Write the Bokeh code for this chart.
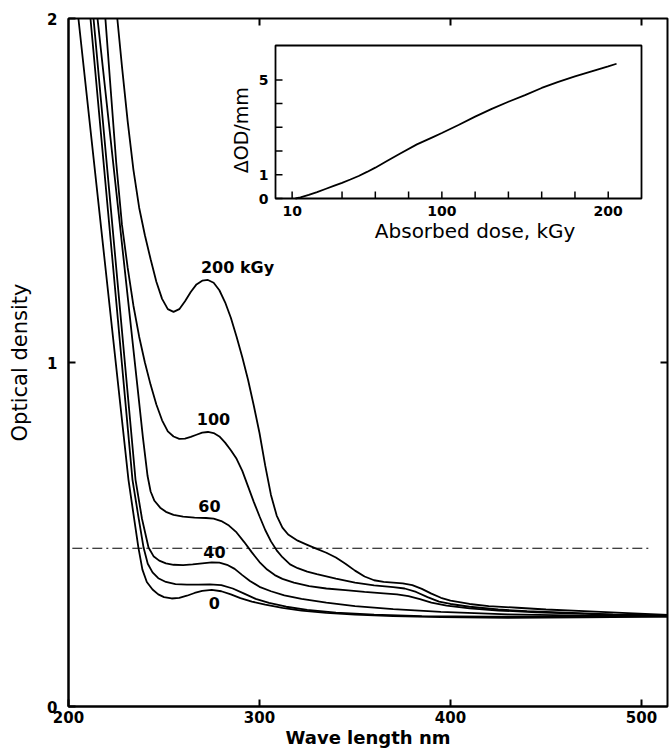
import math
from bokeh.plotting import figure
from bokeh.models import Range1d, FixedTicker
from bokeh.core.properties import value
from bokeh.embed import file_html
from bokeh.resources import INLINE

# ---------------- data ----------------
wl_0 = [204, 231.4, 234, 236.6, 238.7, 241, 244, 247, 250, 254, 258, 262, 266, 270, 275, 280, 285, 290, 296, 303, 312, 322, 335, 350, 370, 395, 430, 470, 514]
od_0 = [2.061, 0.659, 0.56, 0.462, 0.398, 0.362, 0.34, 0.326, 0.318, 0.314, 0.316, 0.322, 0.33, 0.336, 0.339, 0.335, 0.326, 0.315, 0.305, 0.296, 0.287, 0.279, 0.272, 0.267, 0.263, 0.26, 0.258, 0.259, 0.261]

wl_20 = [210.5, 233.5, 236.5, 239.3, 241.5, 244, 247, 251, 256, 262, 268, 274, 280, 286, 292, 298, 305, 314, 325, 340, 360, 385, 420, 460, 514]
od_20 = [2.061, 0.659, 0.555, 0.462, 0.415, 0.39, 0.373, 0.362, 0.356, 0.354, 0.354, 0.355, 0.353, 0.343, 0.328, 0.313, 0.301, 0.29, 0.281, 0.273, 0.267, 0.263, 0.261, 0.261, 0.262]

wl_40 = [212.1, 235.1, 238.5, 241.9, 244.5, 247.5, 251, 255, 260, 265, 270, 275, 279, 283, 287, 291, 295, 300, 306, 313, 322, 335, 350, 370, 395, 430, 470, 514]
od_40 = [2.061, 0.659, 0.545, 0.462, 0.437, 0.424, 0.416, 0.412, 0.411, 0.413, 0.416, 0.419, 0.418, 0.412, 0.4, 0.382, 0.365, 0.348, 0.335, 0.323, 0.313, 0.302, 0.292, 0.283, 0.275, 0.268, 0.264, 0.262]

wl_60 = [214, 236, 239, 241.4, 243, 245, 248, 251, 255, 260, 266, 272, 276, 280, 284, 288, 292, 296, 300, 304, 308, 312, 318, 326, 335, 345, 355, 365, 372, 378, 384, 390, 398, 410, 425, 445, 470, 495, 514]
od_60 = [2.061, 0.935, 0.78, 0.67, 0.625, 0.598, 0.578, 0.566, 0.557, 0.552, 0.549, 0.548, 0.546, 0.539, 0.526, 0.506, 0.478, 0.448, 0.42, 0.398, 0.382, 0.371, 0.36, 0.35, 0.343, 0.338, 0.333, 0.329, 0.326, 0.321, 0.312, 0.302, 0.293, 0.285, 0.279, 0.274, 0.269, 0.265, 0.263]

wl_100 = [218.5, 222, 225, 228, 231, 234, 237, 240, 243, 246, 249, 252, 255, 258, 261, 264, 267, 270, 273, 276, 279, 282, 285, 288, 291, 294, 297, 300, 303, 306, 309, 312, 316, 320, 325, 330, 340, 350, 360, 370, 376, 382, 388, 394, 400, 410, 425, 440, 460, 485, 514]
od_100 = [2.06, 1.80, 1.58, 1.40, 1.275, 1.165, 1.075, 1.0, 0.935, 0.878, 0.832, 0.80, 0.785, 0.778, 0.779, 0.784, 0.79, 0.796, 0.798, 0.795, 0.785, 0.767, 0.745, 0.72, 0.685, 0.64, 0.595, 0.553, 0.513, 0.48, 0.454, 0.434, 0.413, 0.402, 0.392, 0.385, 0.372, 0.36, 0.352, 0.347, 0.343, 0.333, 0.318, 0.305, 0.298, 0.29, 0.282, 0.277, 0.273, 0.268, 0.265]

wl_200 = [224.5, 228, 231, 234, 237, 240, 243, 246, 249, 252, 255, 258, 261, 264, 267, 270, 273, 276, 279, 282, 285, 288, 291, 294, 297, 300, 303, 306, 309, 312, 315, 320, 325, 330, 335, 340, 345, 350, 355, 360, 365, 370, 375, 380, 385, 390, 395, 400, 410, 420, 435, 450, 470, 490, 514]
od_200 = [2.06, 1.86, 1.70, 1.56, 1.45, 1.37, 1.30, 1.235, 1.185, 1.155, 1.147, 1.155, 1.178, 1.205, 1.227, 1.238, 1.240, 1.232, 1.21, 1.175, 1.13, 1.075, 1.015, 0.95, 0.875, 0.795, 0.70, 0.615, 0.555, 0.52, 0.50, 0.482, 0.47, 0.458, 0.447, 0.433, 0.415, 0.395, 0.378, 0.367, 0.362, 0.36, 0.358, 0.353, 0.342, 0.328, 0.316, 0.308, 0.298, 0.292, 0.287, 0.282, 0.277, 0.272, 0.266]

curve_label_text = ["200 kGy", "100", "60", "40", "0"]
curve_label_wl = [288.5, 275.9, 273.8, 276.4, 276.4]
curve_label_od = [1.277, 0.836, 0.583, 0.45, 0.302]

ref_level = 0.46
ref_wl = [202, 505]

x_ticks = [200, 300, 400, 500]
y_ticks = [0, 1, 2]

# inset: absorbed dose (kGy) vs delta OD per mm
dose = [12, 15, 20, 25, 30, 35, 40, 45, 50, 55, 60, 67, 75, 85, 95, 100, 110, 120, 130, 140, 150, 160, 170, 180, 190, 200, 205]
dod = [0.0, 0.05, 0.15, 0.27, 0.4, 0.53, 0.66, 0.8, 0.95, 1.12, 1.3, 1.58, 1.9, 2.28, 2.6, 2.76, 3.1, 3.45, 3.78, 4.08, 4.36, 4.66, 4.92, 5.15, 5.36, 5.57, 5.68]
inset_xlim = [0, 220]
inset_ylim = [0, 6.45]
inset_x_ticks = [10, 40, 60, 80, 100, 120, 140, 160, 180, 200]
inset_x_label_pos = [10, 100, 200]
inset_x_label_txt = ["10", "100", "200"]
inset_y_ticks = [0, 1, 2, 3, 4, 5]
inset_y_label_pos = [0, 1, 5]
inset_y_label_txt = ["0", "1", "5"]

# ---------------- layout ----------------
W, H = 669, 750
B_LEFT, B_RIGHT, B_TOP, B_BOTTOM = 68, 2, 18, 44
X0 = 200
PX_PER_NM = 1.91
fl, fr, ft, fb = B_LEFT, W - B_RIGHT, B_TOP, H - B_BOTTOM
X1 = X0 + (fr - fl) / PX_PER_NM
# inset box in figure pixels
il, ir, it, ib = 275, 641, 45, 198
kx = (ir - il) / (inset_xlim[1] - inset_xlim[0])
ky = (ib - it) / (inset_ylim[1] - inset_ylim[0])
dose_range = Range1d(inset_xlim[0] - (il - fl) / kx, inset_xlim[1] + (fr - ir) / kx)
dod_range = Range1d(inset_ylim[0] - (fb - ib) / ky, inset_ylim[1] + (it - ft) / ky)

FONT = "DejaVu Sans"

p = figure(width=W, height=H, x_range=Range1d(X0, X1), y_range=Range1d(0, 2),
           output_backend="svg", toolbar_location=None,
           min_border_left=B_LEFT, min_border_right=B_RIGHT,
           min_border_top=B_TOP, min_border_bottom=B_BOTTOM,
           x_axis_label="Wave length nm", y_axis_label="Optical density")
p.extra_x_ranges = {"dose": dose_range}
p.extra_y_ranges = {"dod": dod_range}
p.xgrid.visible = False
p.ygrid.visible = False
p.outline_line_color = "black"
p.outline_line_width = 2
p.background_fill_color = "white"

for ax, ticks in ((p.xaxis[0], x_ticks), (p.yaxis[0], y_ticks)):
    ax.ticker = FixedTicker(ticks=ticks)
    ax.major_tick_in = 7
    ax.major_tick_out = 0
    ax.minor_tick_line_color = None
    ax.axis_line_width = 2
    ax.major_tick_line_width = 2
    ax.major_label_text_font = FONT
    ax.major_label_text_font_style = "bold"
    ax.major_label_text_font_size = "15px"
    ax.major_label_text_color = "black"
    ax.axis_label_text_font = FONT
    ax.axis_label_text_font_style = "normal"
    ax.axis_label_text_color = "black"

p.xaxis.major_label_standoff = 4
p.xaxis.axis_label_standoff = 1
p.xaxis.axis_label_text_font_size = "18px"
p.xaxis.axis_label_text_font_style = "bold"
p.yaxis.major_label_standoff = 11
p.yaxis.axis_label_standoff = 12
p.yaxis.axis_label_text_font_size = "21px"

# inward ticks on top and right frame edges
p.scatter(x=x_ticks[1:], y=[2] * 3, marker="dash", angle=math.pi / 2, size=14,
          line_color="black", line_width=2)
p.scatter(x=[X1], y=[1], marker="dash", size=14, line_color="black", line_width=2)

# reference dash-dot line
p.line(ref_wl, [ref_level, ref_level], line_color="black", line_width=1.2,
       line_dash="10 4 2 4")

# spectra
for wl, od in ((wl_0, od_0), (wl_20, od_20), (wl_40, od_40), (wl_60, od_60),
               (wl_100, od_100), (wl_200, od_200)):
    p.line(wl, od, line_color="black", line_width=1.8)

p.text(x=curve_label_wl, y=curve_label_od, text=curve_label_text,
       text_font=value(FONT), text_font_size="16px", text_font_style="bold",
       text_align="center", text_baseline="middle", text_color="black")

# ---------------- inset ----------------
p.quad(left=[inset_xlim[0]], right=[inset_xlim[1]], bottom=[inset_ylim[0]], top=[inset_ylim[1]],
       x_range_name="dose", y_range_name="dod", fill_color="white",
       line_color="black", line_width=1.8)
p.segment(x0=inset_x_ticks, y0=[inset_ylim[0]] * len(inset_x_ticks),
          x1=inset_x_ticks, y1=[inset_ylim[0] + 7 / ky] * len(inset_x_ticks),
          x_range_name="dose", y_range_name="dod", line_color="black", line_width=1.5)
p.segment(x0=[inset_xlim[0]] * len(inset_y_ticks), y0=inset_y_ticks,
          x1=[inset_xlim[0] + 7 / kx] * len(inset_y_ticks), y1=inset_y_ticks,
          x_range_name="dose", y_range_name="dod", line_color="black", line_width=1.5)
p.line(dose, dod, x_range_name="dose", y_range_name="dod", line_color="black", line_width=1.8)

p.text(x=inset_x_label_pos, y=[inset_ylim[0]] * 3, text=inset_x_label_txt,
       x_range_name="dose", y_range_name="dod", y_offset=12,
       text_font=value(FONT), text_font_size="14px", text_font_style="bold",
       text_align="center", text_baseline="middle", text_color="black")
p.text(x=[inset_xlim[0]] * 3, y=inset_y_label_pos, text=inset_y_label_txt,
       x_range_name="dose", y_range_name="dod", x_offset=-12,
       text_font=value(FONT), text_font_size="14px", text_font_style="bold",
       text_align="center", text_baseline="middle", text_color="black")
p.text(x=[(inset_xlim[0] + inset_xlim[1]) / 2 + 10], y=[inset_ylim[0]], text=["Absorbed dose, kGy"],
       x_range_name="dose", y_range_name="dod", y_offset=32,
       text_font=value(FONT), text_font_size="20px",
       text_align="center", text_baseline="middle", text_color="black")
p.text(x=[inset_xlim[0]], y=[(inset_ylim[0] + inset_ylim[1]) / 2 - 0.35], text=["ΔOD/mm"],
       x_range_name="dose", y_range_name="dod", x_offset=-35, angle=math.pi / 2,
       text_font=value(FONT), text_font_size="19px",
       text_align="center", text_baseline="middle", text_color="black")

open("out.html", "w").write(file_html(p, INLINE))
